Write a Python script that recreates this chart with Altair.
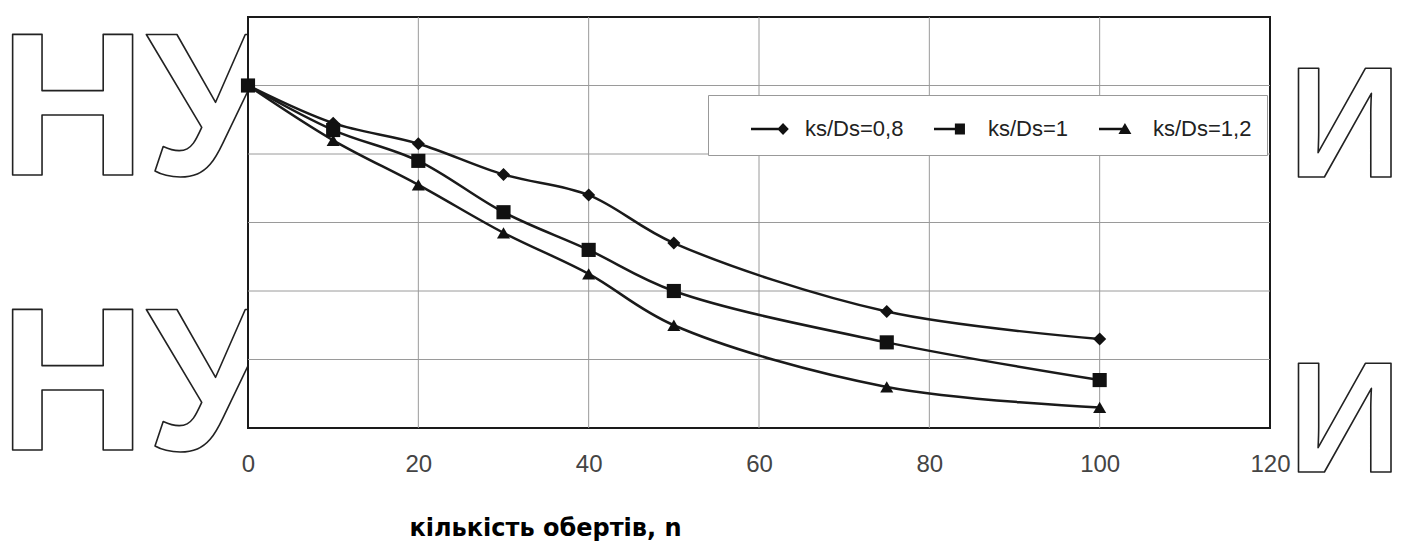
import altair as alt
import pandas as pd

# Number of revolutions and the relative value for each ks/Ds ratio
n_values = [0, 10, 20, 30, 40, 50, 75, 100]
ratio_08 = [1.0, 0.89, 0.83, 0.74, 0.68, 0.54, 0.34, 0.26]
ratio_10 = [1.0, 0.87, 0.78, 0.63, 0.52, 0.40, 0.25, 0.14]
ratio_12 = [1.0, 0.84, 0.71, 0.57, 0.45, 0.30, 0.12, 0.06]
series_names = ["ks/Ds=0,8", "ks/Ds=1", "ks/Ds=1,2"]
marker_shapes = ["diamond", "square", "triangle-up"]
marker_sizes = [170, 200, 170]

x_ticks = [0, 20, 40, 60, 80, 100, 120]
x_grid = [20, 40, 60, 80, 100]
y_grid = [0.2, 0.4, 0.6, 0.8, 1.0]
x_title = "кількість обертів, n"

rows = []
for name, vals in zip(series_names, [ratio_08, ratio_10, ratio_12]):
    for n, v in zip(n_values, vals):
        rows.append({"n": n, "value": v, "series": name})
df = pd.DataFrame(rows)

W, H = 1022, 411
xs = alt.Scale(domain=[0, 120], nice=False, zero=False)
ys = alt.Scale(domain=[0, 1.2], nice=False, zero=False)
INK = "#1a1a1a"

one_row = alt.InlineData(values=[{"k": 0}])


def outline_text(txt, size, x, y):
    return alt.Chart(one_row).mark_text(
        text=txt, font="Liberation Sans", fontWeight="bold", fontSize=size,
        align="left", baseline="alphabetic", fillOpacity=0,
        stroke="#222", strokeWidth=1.6, strokeJoin="round",
    ).encode(x=alt.value(x), y=alt.value(y))


wm = [
    outline_text("НУ", 204, -249, 158),
    outline_text("НУ", 204, -249, 433),
    outline_text("И", 158, 1040, 160),
    outline_text("И", 158, 1040, 455),
]

x_axis = alt.Axis(
    values=x_ticks, grid=False, ticks=False, domain=False, labelOverlap=False,
    labelFont="Liberation Sans", labelFontSize=24, labelColor="#444",
    labelPadding=24, labelFlush=False,
    titleFont="DejaVu Sans", titleFontWeight="bold", titleFontSize=24,
    titleColor="#000", titleX=297, titleY=107, titleBaseline="alphabetic",
    titleAlign="center",
)

# white plot panel with a dark frame; it also carries the axis definitions
frame = alt.Chart(one_row).mark_rect(fill="white", stroke=INK, strokeWidth=2).encode(
    x=alt.XDatum(0, scale=xs, axis=x_axis, title=x_title),
    x2=alt.X2Datum(120),
    y=alt.YDatum(0, scale=ys, axis=None),
    y2=alt.Y2Datum(1.2),
)

vgrid = alt.Chart(pd.DataFrame({"gx": x_grid})).mark_rule(color="#9a9a9a", strokeWidth=1).encode(
    x=alt.X("gx:Q", title=x_title)
)
hgrid = alt.Chart(pd.DataFrame({"gy": y_grid})).mark_rule(color="#9a9a9a", strokeWidth=1).encode(
    y=alt.Y("gy:Q")
)

lines = alt.Chart(df).mark_line(interpolate="catmull-rom", color=INK, strokeWidth=2.5).encode(
    x=alt.X("n:Q", title=x_title), y="value:Q", detail="series:N",
)

point_layers = [
    alt.Chart(df).transform_filter(alt.datum.series == name).mark_point(
        shape=shp, size=sz, filled=True, opacity=1, color="#111"
    ).encode(x=alt.X("n:Q", title=x_title), y="value:Q")
    for name, shp, sz in zip(series_names, marker_shapes, marker_sizes)
]

# legend keys: a short bar (the line) with the marker at its end, all filled
key_paths = [
    "M-1,-0.07H0.55V0.07H-1Z M0.78,-0.33L1.1,0L0.78,0.33L0.46,0Z",
    "M-1,-0.07H0.3V0.07H-1Z M0.16,-0.3H0.72V0.3H0.16Z",
    "M-1,-0.07H0.3V0.07H-1Z M0.44,-0.33L0.8,0.28L0.08,0.28Z",
]
keys = alt.Chart(df).transform_filter("false").mark_point(
    filled=True, color="#111", size=1296, opacity=1
).encode(
    x=alt.X("n:Q", title=x_title), y="value:Q",
    shape=alt.Shape(
        "series:N",
        scale=alt.Scale(domain=series_names, range=key_paths),
        legend=alt.Legend(
            title=None, orient="none", legendX=460, legendY=78,
            direction="horizontal", columns=3,
            symbolSize=1296, symbolFillColor="#111",
            symbolOpacity=1, symbolOffset=27,
            labelOffset=17, labelFont="Liberation Sans", labelFontSize=22,
            labelColor="#222", columnPadding=2, padding=15,
            strokeColor="#999", fillColor="white",
        ),
    ),
)

chart = alt.layer(*wm, frame, vgrid, hgrid, lines, *point_layers, keys).properties(
    width=W, height=H,
    autosize=alt.AutoSizeParams(type="none"),
    padding={"left": 248, "top": 17, "right": 137, "bottom": 116},
    background="white",
).configure_view(strokeOpacity=0)

chart.save("out.html", embed_options={"renderer": "svg", "actions": False})
